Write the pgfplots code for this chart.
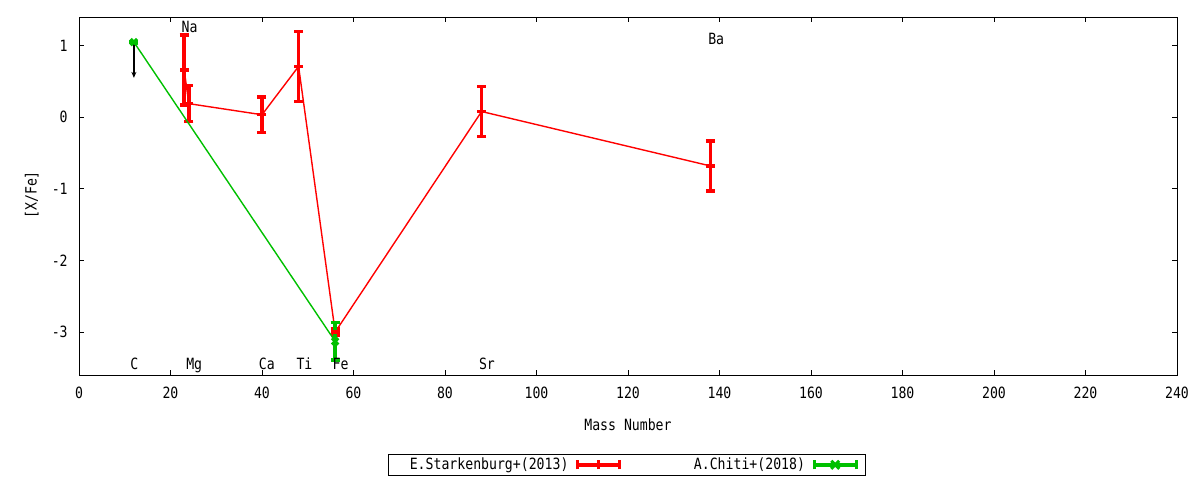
\documentclass[border=0pt]{standalone}
\usepackage{fontspec}
\setmainfont{DejaVu Sans Mono}[FakeStretch=0.85]
\usepackage{pgfplots}
\pgfplotsset{compat=1.18}
\usetikzlibrary{arrows.meta}
\definecolor{gpred}{RGB}{255,0,0}
\definecolor{gpgreen}{RGB}{0,192,0}
\pgfplotsset{
  redleg/.style={legend image code/.code={
    \draw[gpred, line width=3.5pt] (0pt,0pt) -- (42pt,0pt);
    \draw[gpred, line width=3.5pt] (0pt,-4.5pt) -- (0pt,4.5pt) (42pt,-4.5pt) -- (42pt,4.5pt) (21pt,-4.5pt) -- (21pt,4.5pt);
  }},
  greenleg/.style={legend image code/.code={
    \draw[gpgreen, line width=3.5pt] (0pt,0pt) -- (42pt,0pt);
    \draw[gpgreen, line width=3.5pt] (0pt,-4.5pt) -- (0pt,4.5pt) (42pt,-4.5pt) -- (42pt,4.5pt);
    \draw[gpgreen, line width=3pt] (17pt,-4pt) -- (25pt,4pt) (17pt,4pt) -- (25pt,-4pt);
    \path (48pt,0pt);
  }},
}
\begin{document}
\fontsize{15.5}{18}\selectfont
\begin{tikzpicture}
\useasboundingbox (0,0) rectangle (1200pt,480pt);
\begin{axis}[
  at={(79pt,105pt)}, anchor=south west,
  scale only axis, width=1098pt, height=358pt,
  xmin=0, xmax=240, ymin=-3.6, ymax=1.4,
  xtick={0,20,...,240}, ytick={-3,-2,-1,0,1},
  tick align=inside, major tick length=5pt,
  tick style={black, line width=0.8pt},
  axis line style={line width=0.8pt},
  /pgf/number format/assume math mode=true,
  xticklabel style={yshift=-7pt},
  yticklabel style={xshift=-6pt},
  xlabel={Mass Number}, ylabel={[X/Fe]},
  xlabel style={at={(axis description cs:0.5,-0.14)}, anchor=center},
  ylabel style={at={(axis description cs:-0.043,0.503)}, anchor=center},
  clip=false,
  legend columns=2, legend plot pos=right, legend cell align=right,
  legend style={at={(0.499,-0.251)}, anchor=center, draw=black, line width=0.8pt,
    inner sep=2pt, nodes={inner xsep=0pt, inner ysep=1.5pt},
    /tikz/every odd column/.append style={column sep=7.5pt},
    /tikz/every even column/.append style={column sep=72.5pt}},
]
% upper limit arrow for C
\addplot[black, line width=1.2pt, -{Stealth[length=6pt,width=5pt]}, forget plot]
  coordinates {(12,1.02) (12,0.55)};
% E.Starkenburg+(2013)
\addplot[gpred, line width=1.4pt, redleg, mark=-, mark size=4.5pt, mark options={line width=3.5pt},
  error bars/.cd, y dir=both, y explicit,
  error bar style={line width=3.5pt},
  error mark options={rotate=90, mark size=4.5pt, line width=3.5pt}]
  coordinates {
    (23,0.66)  +- (0,0.49)
    (24,0.19)  +- (0,0.25)
    (40,0.035) +- (0,0.25)
    (48,0.71)  +- (0,0.49)
    (56,-3.0)  +- (0,0.05)
    (88,0.08)  +- (0,0.35)
    (138,-0.68) +- (0,0.35)
  };
\addlegendentry{\hspace*{19pt}E.Starkenburg+(2013)}
% A.Chiti+(2018)
\addplot[gpgreen, line width=1.4pt, greenleg, mark=x, mark size=4.5pt, mark options={line width=3pt},
  error bars/.cd, y dir=both, y explicit,
  error bar style={line width=3.5pt},
  error mark options={rotate=90, mark size=4.5pt, line width=3.5pt}]
  coordinates {
    (12,1.05)  +- (0,0)
    (56,-3.13) +- (0,0.26)
  };
\addlegendentry{A.Chiti+(2018)}
% element labels
\node[anchor=base west, inner sep=0pt] at (axis cs:11.2,-3.517) {C};
\node[anchor=base west, inner sep=0pt] at (axis cs:22.4,1.19) {Na};
\node[anchor=base west, inner sep=0pt] at (axis cs:23.4,-3.517) {Mg};
\node[anchor=base west, inner sep=0pt] at (axis cs:39.3,-3.517) {Ca};
\node[anchor=base west, inner sep=0pt] at (axis cs:47.5,-3.517) {Ti};
\node[anchor=base west, inner sep=0pt] at (axis cs:55.4,-3.517) {Fe};
\node[anchor=base west, inner sep=0pt] at (axis cs:87.4,-3.517) {Sr};
\node[anchor=base west, inner sep=0pt] at (axis cs:137.5,1.022) {Ba};
\end{axis}
\end{tikzpicture}
\end{document}
